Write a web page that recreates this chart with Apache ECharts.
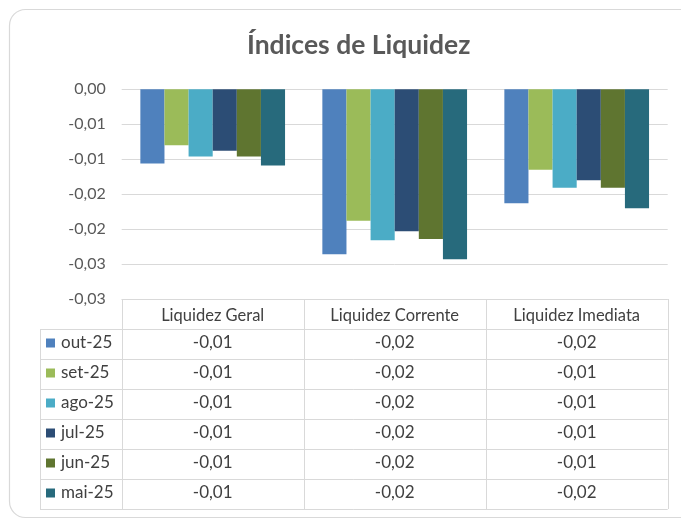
<!DOCTYPE html>
<html>
<head>
<meta charset="utf-8">
<script src="https://cdn.jsdelivr.net/npm/echarts@6/dist/echarts.min.js"></script>
<style>
  html, body { margin: 0; padding: 0; background: #fff; }
  #chart { width: 681px; height: 521px; }
</style>
</head>
<body>
<div id="chart"></div>
<script>
const categories = ['Liquidez Geral', 'Liquidez Corrente', 'Liquidez Imediata'];
const months = ['out-25', 'set-25', 'ago-25', 'jul-25', 'jun-25', 'mai-25'];
const out25 = [-0.0106, -0.0236, -0.0163];
const set25 = [-0.0080, -0.0188, -0.0115];
const ago25 = [-0.0096, -0.0216, -0.0141];
const jul25 = [-0.0088, -0.0203, -0.0130];
const jun25 = [-0.0096, -0.0214, -0.0141];
const mai25 = [-0.0109, -0.0243, -0.0170];
const colorPallet = ['#4F81BD', '#9BBB59', '#4BACC6', '#2C4D75', '#5F7530', '#276A7C'];

const seriesValues = [out25, set25, ago25, jul25, jun25, mai25];

// excel style rounding, half away from zero, comma decimal
function fmt(v) {
    const r = Math.round(Math.abs(v) * 100 + 1e-9) / 100;
    if (r === 0) return '0,00';
    return (v < 0 ? '-' : '') + r.toFixed(2).replace('.', ',');
}

const gridLeft = 121.7, gridTop = 89.3, gridW = 546, gridH = 209.7;
const rowH = 30, tableLeft = 40;
const textColor = '#404040';
const lineColor = '#d9d9d9';
const font = 'Lato, "Open Sans", sans-serif';

const chart = echarts.init(document.querySelector('#chart'));
chart.setOption({
    animation: false,
    textStyle: { fontFamily: font },
    title: {
        text: 'Índices de Liquidez',
        left: 242,
        top: 27,
        textStyle: { fontSize: 26.5, fontWeight: 'bold', color: '#595959', fontFamily: font }
    },
    grid: { left: gridLeft, top: gridTop, width: gridW, height: gridH },
    xAxis: {
        type: 'category',
        data: categories,
        axisLine: { show: false, onZero: false },
        axisTick: { show: false },
        axisLabel: { color: textColor, fontSize: 16.5, margin: 8 }
    },
    yAxis: {
        type: 'value',
        min: -0.03,
        max: 0,
        interval: 0.005,
        axisLabel: { color: '#595959', fontSize: 16, margin: 16, formatter: fmt },
        splitLine: { lineStyle: { color: lineColor, width: 1 } }
    },
    series: months.map((m, i) => ({
        name: m,
        type: 'bar',
        data: seriesValues[i],
        barGap: '0%',
        barCategoryGap: '20.5%',
        itemStyle: { color: colorPallet[i] }
    }))
});

// data table under the plot
const colW = gridW / categories.length;
const tTop = gridTop + gridH;
const tRight = gridLeft + gridW;
const els = [];
els.push({
    type: 'rect', silent: true, z: -10,
    shape: { x: 9.5, y: 9.5, width: 700, height: 508, r: 16 },
    style: { fill: '#fff', stroke: '#d9d9d9', lineWidth: 1.2 }
});
const line = (x1, y1, x2, y2) => els.push({
    type: 'line', silent: true,
    shape: { x1: x1, y1: y1, x2: x2, y2: y2 },
    style: { stroke: lineColor, lineWidth: 1 }
});
for (let c = 0; c <= categories.length; c++) {
    const x = Math.round(gridLeft + colW * c) + 0.5;
    line(x, tTop, x, tTop + rowH * (months.length + 1));
}
line(tableLeft + 0.5, tTop + rowH, tableLeft + 0.5, tTop + rowH * (months.length + 1));
line(gridLeft, tTop + 0.5, tRight, tTop + 0.5);
for (let r = 1; r <= months.length + 1; r++) {
    const y = Math.round(tTop + rowH * r) + 0.5;
    line(tableLeft, y, tRight, y);
}
months.forEach((m, r) => {
    const yc = tTop + rowH * (r + 1.5) - 1;
    els.push({
        type: 'rect', silent: true,
        shape: { x: tableLeft + 6, y: yc - 4.5, width: 9, height: 9 },
        style: { fill: colorPallet[r] }
    });
    els.push({
        type: 'text', silent: true,
        style: { x: tableLeft + 21, y: yc, text: m, fill: textColor, fontSize: 17, fontFamily: font, verticalAlign: 'middle' }
    });
    categories.forEach((cat, c) => {
        const xc = chart.convertToPixel({ xAxisIndex: 0 }, cat);
        els.push({
            type: 'text', silent: true,
            style: { x: xc, y: yc, text: fmt(seriesValues[r][c]), fill: textColor, fontSize: 17, fontFamily: font, align: 'center', verticalAlign: 'middle' }
        });
    });
});
chart.setOption({ graphic: { elements: els } });
</script>
</body>
</html>
